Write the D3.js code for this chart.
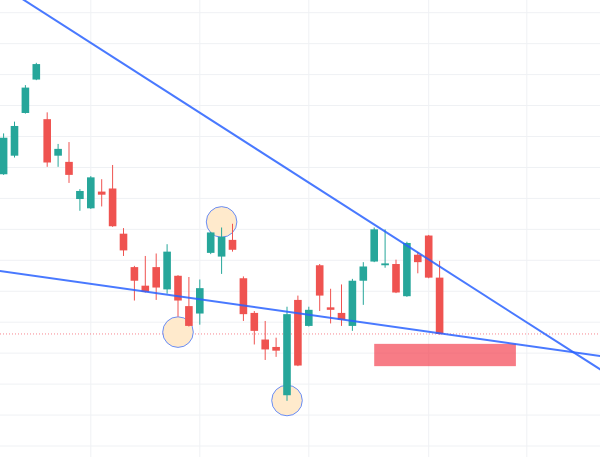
<!DOCTYPE html>
<html>
<head>
<meta charset="utf-8">
<script src="https://cdn.jsdelivr.net/npm/d3@7"></script>
<style>
  html, body { margin: 0; padding: 0; background: #fff; }
  svg { display: block; }
</style>
</head>
<body>
<div id="container"></div>
<script>
/* CONSTANTS AND GLOBALS */
const width = 600;
const height = 457;

/* DATA */
// candle index (one per bar), OHLC
const opens  = [143.9, 146.9, 153.8, 159.2, 152.8, 146.9, 145.9, 139.9, 138.4, 141.1,
                141.6, 134.3, 128.9, 125.9, 128.9, 125.3, 127.5, 122.6, 121.4, 131.2,
                130.6, 133.3, 127.1, 121.5, 117.2, 116.0, 108.2, 123.6, 119.4, 129.2,
                122.4, 121.5, 119.4, 126.7, 129.8, 129.2, 129.4, 124.2, 130.9, 134.0,
                127.2];
const highs  = [150.5, 152.4, 158.3, 161.9, 153.9, 148.8, 149.1, 141.5, 143.6, 143.1,
                145.4, 135.2, 129.1, 130.7, 131.1, 132.6, 127.6, 127.3, 126.9, 134.6,
                135.3, 135.9, 127.4, 121.8, 120.2, 117.5, 122.5, 124.3, 122.5, 129.4,
                125.4, 126.1, 127.0, 129.7, 135.3, 135.0, 130.1, 133.0, 131.3, 134.1,
                129.9];
const lows   = [143.8, 146.6, 153.7, 159.1, 145.1, 145.1, 142.5, 138.0, 138.3, 138.7,
                135.4, 130.7, 123.5, 124.8, 123.6, 124.6, 120.9, 119.3, 119.6, 131.0,
                127.8, 131.4, 120.2, 116.4, 113.9, 114.4, 107.3, 112.9, 119.3, 121.8,
                119.8, 119.4, 118.6, 122.8, 129.7, 128.8, 124.7, 124.1, 127.9, 127.1,
                118.0];
const closes = [149.8, 151.7, 157.9, 161.7, 145.8, 148.0, 143.8, 141.2, 143.4, 140.6,
                135.5, 131.6, 126.7, 124.9, 125.6, 131.4, 123.5, 119.4, 125.5, 134.5,
                133.8, 131.7, 121.3, 118.6, 115.6, 115.4, 121.3, 113.0, 122.0, 124.3,
                122.0, 120.4, 126.7, 129.0, 135.0, 129.5, 124.8, 132.8, 129.7, 127.2,
                118.1];

// grid ticks
const priceTicks = d3.range(100, 171, 5);
const timeTicks = [8, 18, 28, 39, 48];

// drawings: trend lines [index, price], highlight circles, target zone
const upperTrend = [[2, 171.9], [54, 113.2]];
const lowerTrend = [[0, 128.2], [54, 114.7]];
const pivots = [[20, 136.2], [16, 118.4], [26, 107.35]];
const zone = { from: 34, to: 47, top: 116.5, bottom: 112.9 };

const candles = opens.map((o, i) => ({
  i, open: o, high: highs[i], low: lows[i], close: closes[i]
}));
const lastClose = closes[closes.length - 1];

/* SCALES */
const xScale = d3.scaleLinear()
  .domain([0, 54])
  .range([3.6, 592.2]);

const yScale = d3.scaleLinear()
  .domain([100, 170])
  .range([446, 12.7]);

const up = "#26a69a";
const down = "#ef5350";
const blue = "#2962ff";
const bodyW = 7.6;

/* HTML ELEMENTS */
const svg = d3.select("#container")
  .append("svg")
  .attr("width", width)
  .attr("height", height);

// grid
svg.append("g")
  .selectAll("line")
  .data(priceTicks)
  .join("line")
  .attr("x1", 0)
  .attr("x2", width)
  .attr("y1", d => yScale(d))
  .attr("y2", d => yScale(d))
  .attr("stroke", "#eff1f4")
  .attr("stroke-width", 1);

svg.append("g")
  .selectAll("line")
  .data(timeTicks)
  .join("line")
  .attr("x1", d => xScale(d))
  .attr("x2", d => xScale(d))
  .attr("y1", 0)
  .attr("y2", height)
  .attr("stroke", "#eff1f4")
  .attr("stroke-width", 1);

// last price line
svg.append("line")
  .attr("x1", 0)
  .attr("x2", width)
  .attr("y1", yScale(lastClose))
  .attr("y2", yScale(lastClose))
  .attr("stroke", "#f23645")
  .attr("stroke-opacity", 0.6)
  .attr("stroke-dasharray", "1 2");

// circles around pivots
svg.append("g")
  .selectAll("circle")
  .data(pivots)
  .join("circle")
  .attr("cx", d => xScale(d[0]))
  .attr("cy", d => yScale(d[1]))
  .attr("r", 15.3)
  .attr("fill", "#ffeacc")
  .attr("stroke", blue)
  .attr("stroke-opacity", 0.7)
  .attr("stroke-width", 1);

// candles
const g = svg.append("g");
g.selectAll("line")
  .data(candles)
  .join("line")
  .attr("x1", d => xScale(d.i))
  .attr("x2", d => xScale(d.i))
  .attr("y1", d => yScale(d.high))
  .attr("y2", d => yScale(d.low))
  .attr("stroke", d => d.close >= d.open ? up : down)
  .attr("stroke-width", 1);

g.selectAll("rect")
  .data(candles)
  .join("rect")
  .attr("x", d => xScale(d.i) - bodyW / 2)
  .attr("width", bodyW)
  .attr("y", d => yScale(Math.max(d.open, d.close)))
  .attr("height", d => Math.max(1, Math.abs(yScale(d.open) - yScale(d.close))))
  .attr("fill", d => d.close >= d.open ? up : down);

// target zone
svg.append("rect")
  .attr("x", xScale(zone.from))
  .attr("width", xScale(zone.to) - xScale(zone.from))
  .attr("y", yScale(zone.top))
  .attr("height", yScale(zone.bottom) - yScale(zone.top))
  .attr("fill", "#f23645")
  .attr("fill-opacity", 0.65);

// trend lines, extended across the pane
const extend = pts => {
  const [[i0, p0], [i1, p1]] = pts;
  const k = (p1 - p0) / (i1 - i0);
  const a = xScale.invert(-10), b = xScale.invert(width + 10);
  return [[a, p0 + k * (a - i0)], [b, p0 + k * (b - i0)]];
};
const line = d3.line().x(d => xScale(d[0])).y(d => yScale(d[1]));

svg.append("g")
  .selectAll("path")
  .data([upperTrend, lowerTrend])
  .join("path")
  .attr("d", d => line(extend(d)))
  .attr("fill", "none")
  .attr("stroke", blue)
  .attr("stroke-opacity", 0.85)
  .attr("stroke-width", 2);
</script>
</body>
</html>
